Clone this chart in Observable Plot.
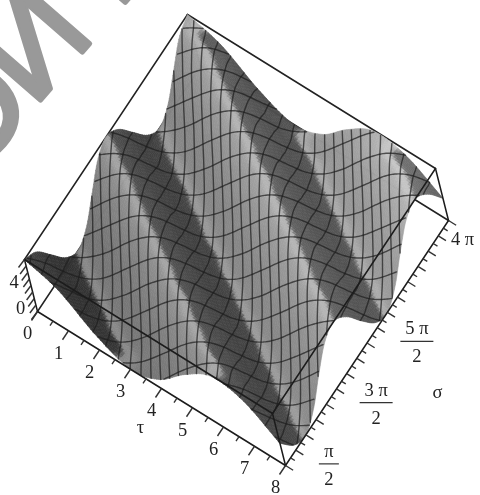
<!DOCTYPE html>
<html>
<head>
<meta charset="utf-8">
<style>html,body{margin:0;padding:0;background:#fff}</style>
<script src="https://cdn.jsdelivr.net/npm/d3@7"></script>
<script src="https://cdn.jsdelivr.net/npm/@observablehq/plot@0.6"></script>
</head>
<body>
<div id="chart"></div>
<script>
// surface heights: one row per tau (0..8), one value per sigma step of pi/4 (0..4pi)
const tau0 = [8.0,6.8,4.0,1.2,0.0,1.2,4.0,6.8,8.0,6.8,4.0,1.2,0.0,1.2,4.0,6.8,8.0];
const tau1 = [6.2,3.2,0.6,0.1,1.8,4.9,7.4,7.9,6.2,3.2,0.6,0.1,1.8,4.9,7.4,7.9,6.2];
const tau2 = [2.3,0.3,0.4,2.6,5.7,7.8,7.6,5.4,2.3,0.3,0.4,2.6,5.7,7.8,7.6,5.4,2.3];
const tau3 = [0.0,0.8,3.4,6.4,8.0,7.2,4.6,1.6,0.0,0.8,3.4,6.4,8.0,7.2,4.6,1.6,0.0];
const tau4 = [1.4,4.3,7.0,8.0,6.6,3.7,1.0,0.0,1.4,4.3,7.0,8.0,6.6,3.7,1.0,0.0,1.4];
const tau5 = [5.1,7.5,7.8,5.9,2.9,0.5,0.2,2.1,5.1,7.5,7.8,5.9,2.9,0.5,0.2,2.1,5.1];
const tau6 = [7.8,7.5,5.1,2.1,0.2,0.5,2.9,5.9,7.8,7.5,5.1,2.1,0.2,0.5,2.9,5.9,7.8];
const tau7 = [7.0,4.3,1.4,0.0,1.0,3.7,6.6,8.0,7.0,4.3,1.4,0.0,1.0,3.7,6.6,8.0,7.0];
const tau8 = [3.4,0.8,0.0,1.6,4.6,7.2,8.0,6.4,3.4,0.8,0.0,1.6,4.6,7.2,8.0,6.4,3.4];
const heights = [tau0,tau1,tau2,tau3,tau4,tau5,tau6,tau7,tau8];

const tauLabels = ["0","1","2","3","4","5","6","7","8"];
const zLabels = [0,4];
const sigmaNumerators = ["π","3 π","5 π"];
const sigmaValues = [Math.PI/2, 3*Math.PI/2, 5*Math.PI/2];
const slopeStops = [-4,-1.3,-0.85,-0.5,0.3,1.5,4];
const grayStops  = [72,82,115,162,166,148,138];

const PI4 = Math.PI/4, SMAX = 4*Math.PI;
const view = {ox:37, oy:311, tx:31, ty:19.25, sx:163/SMAX, sy:-245/SMAX, zx:-13/8, zy:-52/8};
const px = (t,s,z) => view.ox + view.tx*t + view.sx*s + view.zx*z;
const py = (t,s,z) => view.oy + view.ty*t + view.sy*s + view.zy*z;

function at(i,j){
  if(i<0) return 2*at(0,j)-at(-i,j);
  if(i>8) return 2*at(8,j)-at(16-i,j);
  if(j<0) return 2*at(i,0)-at(i,-j);
  if(j>16) return 2*at(i,16)-at(i,32-j);
  return heights[i][j];
}
const cr=(a,b,c,d,f)=>0.5*(2*b+(c-a)*f+(2*a-5*b+4*c-d)*f*f+(3*b-a-3*c+d)*f*f*f);
function height(t,s){
  const u=Math.min(t,7.9999), v=Math.min(s/PI4,15.9999);
  const i=Math.floor(u), j=Math.floor(v), fi=u-i, fj=v-j;
  const col=[];
  for(let a=-1;a<=2;a++) col.push(cr(at(i+a,j-1),at(i+a,j),at(i+a,j+1),at(i+a,j+2),fj));
  return Math.max(0,Math.min(8,cr(col[0],col[1],col[2],col[3],fi)));
}

// facets of the surface
const NT=90, NS=120, shade=d3.scaleLinear().domain(slopeStops).range(grayStops).clamp(true);
const cells=[];
for(let a=0;a<NT;a++)for(let b=0;b<NS;b++){
  const t0=8*a/NT,t1=8*(a+1)/NT,s0=SMAX*b/NS,s1=SMAX*(b+1)/NS;
  const tm=(t0+t1)/2,sm=(s0+s1)/2;
  const slope=(height(tm,s1)-height(tm,s0))/(s1-s0);
  const lift=(sm/SMAX-0.5)*30+(tm/8-0.5)*24+(height(tm,sm)-4)*2.5;
  const g=Math.round(shade(slope)+lift);
  cells.push({t0,t1,s0,s1,g:`rgb(${g},${g},${g})`,depth:view.ty*tm+view.sy*sm});
}
cells.sort((p,q)=>p.depth-q.depth);
const facetPts=[];
cells.forEach((c,id)=>{
  [[c.t0,c.s0],[c.t1,c.s0],[c.t1,c.s1],[c.t0,c.s1],[c.t0,c.s0]].forEach(([t,s])=>{
    const z=height(t,s);
    facetPts.push({id,g:c.g,x:px(t,s,z),y:py(t,s,z)});
  });
});

// mesh lines: the near-horizontal family follows the surface with a reduced wave
const meshPts=[];
let lineId=0;
const det=view.tx*view.sy-view.sx*view.ty, waveShare=0.42;
for(let c=16;c<450;c+=21){
  lineId++;
  let open=false;
  for(let X=0;X<=480;X+=1.5){
    let z=4,t=0,s=0;
    for(let it=0;it<14;it++){
      const Y=c+waveShare*view.zy*(z-4);
      const dx=X-view.ox-view.zx*z, dy=Y-view.oy-view.zy*z;
      t=(dx*view.sy-view.sx*dy)/det; s=(view.tx*dy-view.ty*dx)/det;
      const zn=height(Math.max(0,Math.min(8,t)),Math.max(0,Math.min(SMAX,s)));
      z=0.5*z+0.5*zn;
    }
    if(t<0||t>8||s<0||s>SMAX){ if(open){lineId++;open=false;} continue; }
    open=true;
    meshPts.push({id:lineId,x:px(t,s,z),y:py(t,s,z)});
  }
}
for(let c=0.15;c<12.2;c+=0.355){
  lineId++;
  for(let s=0;s<=SMAX+1e-6;s+=0.05){
    const t=c-0.336*s;
    if(t<0||t>8) continue;
    const z=height(t,s);
    meshPts.push({id:lineId,x:px(t,s,z),y:py(t,s,z)});
  }
}

const edge=(id,a,b)=>[{id,x:px(...a),y:py(...a)},{id,x:px(...b),y:py(...b)}];
const backEdges=[
  ...edge(1,[0,0,8],[0,SMAX,8]),...edge(2,[0,SMAX,8],[8,SMAX,8]),
  ...edge(3,[0,0,0],[0,SMAX,0]),...edge(4,[0,SMAX,0],[8,SMAX,0]),
  ...edge(5,[0,SMAX,0],[0,SMAX,8])
];
const frontEdges=[
  ...edge(1,[0,0,8],[8,0,8]),...edge(2,[8,0,8],[8,SMAX,8]),
  ...edge(3,[8,0,0],[8,0,8]),...edge(4,[8,SMAX,0],[8,SMAX,8]),
  ...edge(5,[0,0,0],[0,0,8]),...edge(6,[0,0,0],[8,0,0]),...edge(7,[8,0,0],[8,SMAX,0])
];

// ticks
const tauTicks=d3.range(0,8.01,0.5).map(t=>({x1:px(t,0,0),y1:py(t,0,0),
  x2:px(t,0,0)-(t%1===0?6:3),y2:py(t,0,0)+(t%1===0?9:4.5)}));
const sigmaTicks=d3.range(0,32.01,1).map(k=>{const s=k*Math.PI/8,m=k%2===0?9:5;
  return {x1:px(8,s,0),y1:py(8,s,0),x2:px(8,s,0)+m*0.85,y2:py(8,s,0)+m*0.53};});
const zTicks=d3.range(0,8.01,1).map(z=>({x1:px(0,0,z),y1:py(0,0,z),x2:px(0,0,z)-6,y2:py(0,0,z)+8}));

const tauText=tauLabels.map((label,t)=>({label,x:px(t,0,0),y:py(t,0,0)}));
const zText=zLabels.map(z=>({label:String(z),x:px(0,0,z),y:py(0,0,z)}));
const fractions=sigmaNumerators.map((label,i)=>{
  const x=px(8,sigmaValues[i],0),y=py(8,sigmaValues[i],0),w=i===0?20:33;
  return {label,den:"2",x1:x+13,x2:x+13+w,xm:x+13+w/2,y:y+29};
});

const serif={fontFamily:"Liberation Serif",fill:"#222",fontSize:18.5};
const plot=Plot.plot({
  width:480,height:495,margin:0,
  x:{domain:[0,480],range:[0,480],axis:null},
  y:{domain:[0,495],range:[0,495],axis:null},
  color:{type:"identity"},
  style:{background:"#fff",filter:"blur(0.6px)"},
  marks:[
    // watermark
    Plot.text(["О","И","Н"],{x:[-30,32,117],y:[115,43,-55],text:d=>d,rotate:-49,fontSize:135,
      fontFamily:"Liberation Sans",fill:"#999",stroke:"#999",strokeWidth:5,textAnchor:"middle",lineAnchor:"middle"}),
    Plot.line(backEdges,{x:"x",y:"y",z:"id",stroke:"#222",strokeWidth:1.5}),
    Plot.line(facetPts,{x:"x",y:"y",z:"id",fill:"g",stroke:"g",strokeWidth:0.6}),
    Plot.line(meshPts,{x:"x",y:"y",z:"id",stroke:"#1c1c1c",strokeWidth:1.4,strokeOpacity:0.7}),
    Plot.line(frontEdges,{x:"x",y:"y",z:"id",stroke:"#1c1c1c",strokeWidth:1.5}),
    Plot.link(tauTicks,{x1:"x1",y1:"y1",x2:"x2",y2:"y2",stroke:"#333",strokeWidth:1.4}),
    Plot.link(sigmaTicks,{x1:"x1",y1:"y1",x2:"x2",y2:"y2",stroke:"#333",strokeWidth:1.4}),
    Plot.link(zTicks,{x1:"x1",y1:"y1",x2:"x2",y2:"y2",stroke:"#333",strokeWidth:1.4}),
    Plot.text(tauText,{x:"x",y:"y",text:"label",dx:-10,dy:22,...serif}),
    Plot.text(zText,{x:"x",y:"y",text:"label",dx:-17,dy:-3,...serif}),
    Plot.text(["τ"],{x:[140],y:[427],text:d=>d,...serif}),
    Plot.text(["σ"],{x:[437],y:[392],text:d=>d,...serif}),
    Plot.text(["4 π"],{x:[462],y:[239],text:d=>d,...serif}),
    Plot.link(fractions,{x1:"x1",x2:"x2",y1:"y",y2:"y",stroke:"#333",strokeWidth:1.2}),
    Plot.text(fractions,{x:"xm",y:"y",text:"label",dy:-13,...serif}),
    Plot.text(fractions,{x:"xm",y:"y",text:"den",dy:15,...serif})
  ]
});
document.getElementById("chart").appendChild(plot);
</script>
</body>
</html>
